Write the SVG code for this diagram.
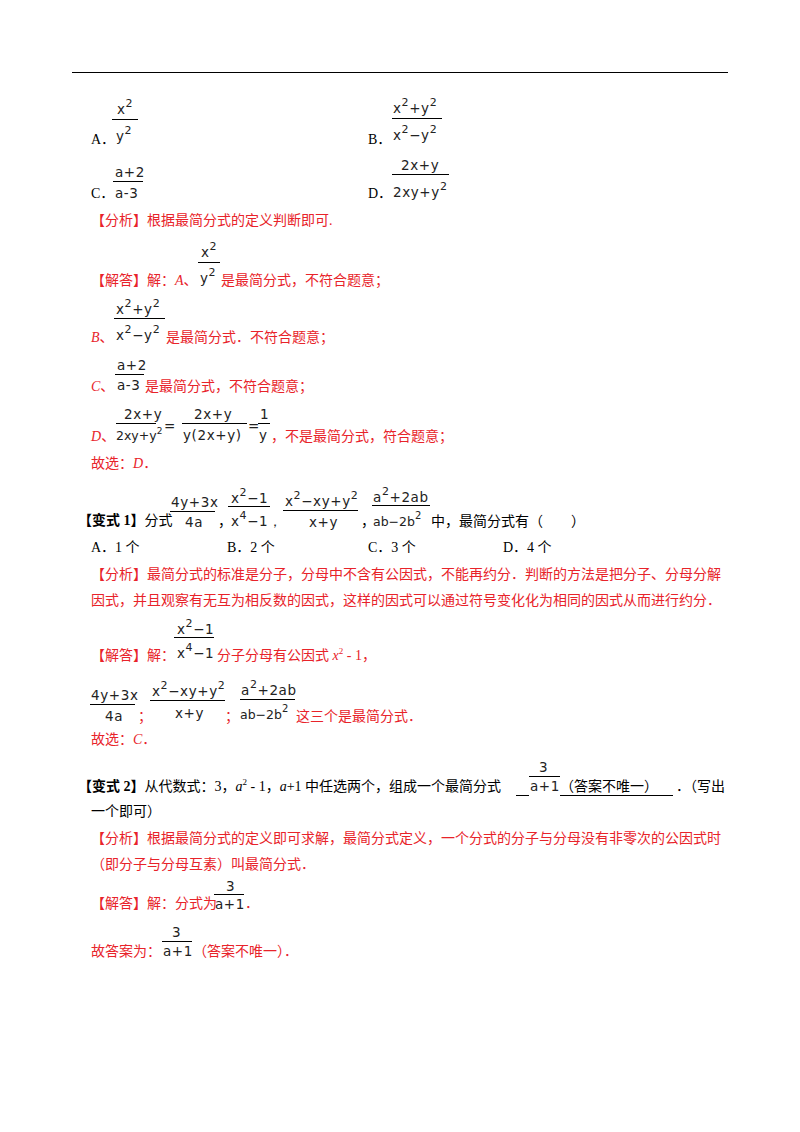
<svg xmlns="http://www.w3.org/2000/svg" width="800" height="1132" viewBox="0 0 800 1132">
<style>
text{font-family:"Liberation Serif","Noto Sans CJK SC",serif;font-size:14px;fill:#000}
.r{fill:#e8232a}
.b{font-weight:bold}
.m{font-family:"DejaVu Sans","Liberation Sans",sans-serif;font-size:13.5px;fill:#222;letter-spacing:0.6px}
.n{letter-spacing:0;font-size:12.5px}
.s{font-size:11px}
line{stroke:#000;stroke-width:1}
</style>
<rect width="800" height="1132" fill="#fff"/>
<line x1="72" y1="72.5" x2="728" y2="72.5" stroke-width="1.5"/>
<g id="options">
<text x="91" y="144">A．</text>
<text class="m" x="117" y="114">x<tspan class="s" dy="-7">2</tspan></text>
<line x1="112" y1="119.5" x2="138" y2="119.5"/>
<text class="m" x="116" y="141">y<tspan class="s" dy="-7">2</tspan></text>
<text x="368" y="144">B．</text>
<text class="m" x="393" y="113">x<tspan class="s" dy="-7">2</tspan><tspan dy="7">+y</tspan><tspan class="s" dy="-7">2</tspan></text>
<line x1="392" y1="118.5" x2="442" y2="118.5"/>
<text class="m" x="393" y="140">x<tspan class="s" dy="-7">2</tspan><tspan dy="7">−y</tspan><tspan class="s" dy="-7">2</tspan></text>
<text x="91" y="198">C．</text>
<text class="m" x="115" y="177">a+2</text>
<line x1="113" y1="181.5" x2="143" y2="181.5"/>
<text class="m" x="115" y="198">a-3</text>
<text x="368" y="198">D．</text>
<text class="m" x="401" y="170">2x+y</text>
<line x1="392" y1="174.5" x2="449" y2="174.5"/>
<text class="m" x="393" y="197">2xy+y<tspan class="s" dy="-7">2</tspan></text>
</g>
<g id="solution1">
<text class="r" x="91" y="225">【分析】根据最简分式的定义判断即可.</text>
<text class="r" x="91" y="285">【解答】解：<tspan font-style="italic">A</tspan>、</text>
<text class="m" x="201" y="257">x<tspan class="s" dy="-7">2</tspan></text>
<line x1="198" y1="262.5" x2="220" y2="262.5"/>
<text class="m" x="200" y="283">y<tspan class="s" dy="-7">2</tspan></text>
<text class="r" x="221" y="285">是最简分式，不符合题意；</text>
<text class="m" x="116" y="314">x<tspan class="s" dy="-7">2</tspan><tspan dy="7">+y</tspan><tspan class="s" dy="-7">2</tspan></text>
<line x1="114" y1="318.5" x2="165" y2="318.5"/>
<text class="m" x="116" y="340">x<tspan class="s" dy="-7">2</tspan><tspan dy="7">−y</tspan><tspan class="s" dy="-7">2</tspan></text>
<text class="r" x="91" y="342"><tspan font-style="italic">B</tspan>、</text>
<text class="r" x="166" y="342">是最简分式．不符合题意；</text>
<text class="m" x="117" y="370">a+2</text>
<line x1="115" y1="374.5" x2="144" y2="374.5"/>
<text class="m" x="117" y="390">a-3</text>
<text class="r" x="91" y="391"><tspan font-style="italic">C</tspan>、</text>
<text class="r" x="145" y="391">是最简分式，不符合题意；</text>
<text class="m" x="124" y="419">2x+y</text>
<line x1="116" y1="423.5" x2="156" y2="423.5"/>
<text class="m n" x="116" y="440">2xy+y<tspan font-size="9px" dy="-6">2</tspan></text>
<text class="m" x="164" y="431">=</text>
<text class="m" x="194" y="419">2x+y</text>
<line x1="182" y1="423.5" x2="247" y2="423.5"/>
<text class="m" x="183" y="440">y(2x+y)</text>
<text class="m" x="248" y="431">=</text>
<text class="m" x="260" y="419">1</text>
<line x1="258" y1="423.5" x2="270" y2="423.5"/>
<text class="m" x="259" y="440">y</text>
<text class="r" x="91" y="441"><tspan font-style="italic">D</tspan>、</text>
<text class="r" x="271" y="441">，不是最简分式，符合题意；</text>
<text class="r" x="91" y="468">故选：<tspan font-style="italic">D</tspan>．</text>
</g>
<g id="variant1">
<text x="78" y="525"><tspan class="b">【变式 1】</tspan>分式</text>
<text class="m" x="171" y="507">4y+3x</text>
<line x1="170" y1="511.5" x2="215" y2="511.5"/>
<text class="m" x="185" y="527">4a</text>
<text x="218" y="526">，</text>
<text class="m" x="231" y="503">x<tspan class="s" dy="-7">2</tspan><tspan dy="7">−1</tspan></text>
<line x1="228" y1="506.5" x2="270" y2="506.5"/>
<text class="m" x="231" y="526">x<tspan class="s" dy="-7">4</tspan><tspan dy="7">−1，</tspan></text>
<text class="m" x="285" y="506">x<tspan class="s" dy="-7">2</tspan><tspan dy="7">−xy+y</tspan><tspan class="s" dy="-7">2</tspan></text>
<line x1="283" y1="510.5" x2="358" y2="510.5"/>
<text class="m" x="309" y="527">x+y</text>
<text x="361" y="526">，</text>
<text class="m" x="373" y="502">a<tspan class="s" dy="-7">2</tspan><tspan dy="7">+2ab</tspan></text>
<line x1="372" y1="505.5" x2="430" y2="505.5"/>
<text class="m n" x="373" y="526">ab−2b<tspan font-size="10px" dy="-7">2</tspan></text>
<text x="431" y="526">中，最简分式有（　　）</text>
<text x="91" y="552">A．1 个</text>
<text x="227" y="552">B．2 个</text>
<text x="368" y="552">C．3 个</text>
<text x="503" y="552">D．4 个</text>
<text class="r" x="91" y="579">【分析】最简分式的标准是分子，分母中不含有公因式，不能再约分．判断的方法是把分子、分母分解</text>
<text class="r" x="91" y="605">因式，并且观察有无互为相反数的因式，这样的因式可以通过符号变化化为相同的因式从而进行约分．</text>
<text class="r" x="91" y="660">【解答】解：</text>
<text class="m" x="177" y="634">x<tspan class="s" dy="-7">2</tspan><tspan dy="7">−1</tspan></text>
<line x1="174" y1="637.5" x2="214" y2="637.5"/>
<text class="m" x="177" y="658">x<tspan class="s" dy="-7">4</tspan><tspan dy="7">−1</tspan></text>
<text class="r" x="217" y="660">分子分母有公因式 <tspan font-style="italic">x</tspan><tspan font-size="9px" dy="-6">2</tspan><tspan dy="6"> - 1，</tspan></text>
<text class="m" x="91" y="700">4y+3x</text>
<line x1="90" y1="704.5" x2="135" y2="704.5"/>
<text class="m" x="105" y="721">4a</text>
<text class="r" x="138" y="721">；</text>
<text class="m" x="152" y="696">x<tspan class="s" dy="-7">2</tspan><tspan dy="7">−xy+y</tspan><tspan class="s" dy="-7">2</tspan></text>
<line x1="150" y1="700.5" x2="225" y2="700.5"/>
<text class="m" x="175" y="718">x+y</text>
<text class="r" x="225" y="721">；</text>
<text class="m" x="241" y="695">a<tspan class="s" dy="-7">2</tspan><tspan dy="7">+2ab</tspan></text>
<line x1="240" y1="699.5" x2="295" y2="699.5"/>
<text class="m n" x="240" y="719">ab−2b<tspan font-size="10px" dy="-7">2</tspan></text>
<text class="r" x="296" y="721">这三个是最简分式．</text>
<text class="r" x="91" y="744">故选：<tspan font-style="italic">C</tspan>．</text>
</g>
<g id="variant2">
<text x="78" y="791"><tspan class="b">【变式 2】</tspan>从代数式：3，<tspan font-style="italic">a</tspan><tspan font-size="9px" dy="-6">2</tspan><tspan dy="6"> - 1，</tspan><tspan font-style="italic">a</tspan>+1 中任选两个，组成一个最简分式</text>
<line x1="516" y1="795.5" x2="529" y2="795.5"/>
<text class="m" x="539" y="772" font-size="16">3</text>
<line x1="529" y1="776.5" x2="560" y2="776.5"/>
<text class="m" x="530" y="791">a+1</text>
<line x1="560" y1="795.5" x2="673" y2="795.5"/>
<text x="560" y="791">（答案不唯一）</text>
<text x="676" y="791">．（写出</text>
<text x="91" y="816">一个即可）</text>
<text class="r" x="91" y="843">【分析】根据最简分式的定义即可求解，最简分式定义，一个分式的分子与分母没有非零次的公因式时</text>
<text class="r" x="91" y="869">（即分子与分母互素）叫最简分式．</text>
<text class="r" x="91" y="908">【解答】解：分式为</text>
<text class="m" x="226" y="891" font-size="16">3</text>
<line x1="214" y1="894.5" x2="244" y2="894.5"/>
<text class="m" x="215" y="909">a+1</text>
<text class="r" x="245" y="908">．</text>
<text class="r" x="91" y="956">故答案为：</text>
<text class="m" x="172" y="937" font-size="16">3</text>
<line x1="162" y1="941.5" x2="192" y2="941.5"/>
<text class="m" x="163" y="956">a+1</text>
<text class="r" x="193" y="956">（答案不唯一）．</text>
</g>
</svg>
